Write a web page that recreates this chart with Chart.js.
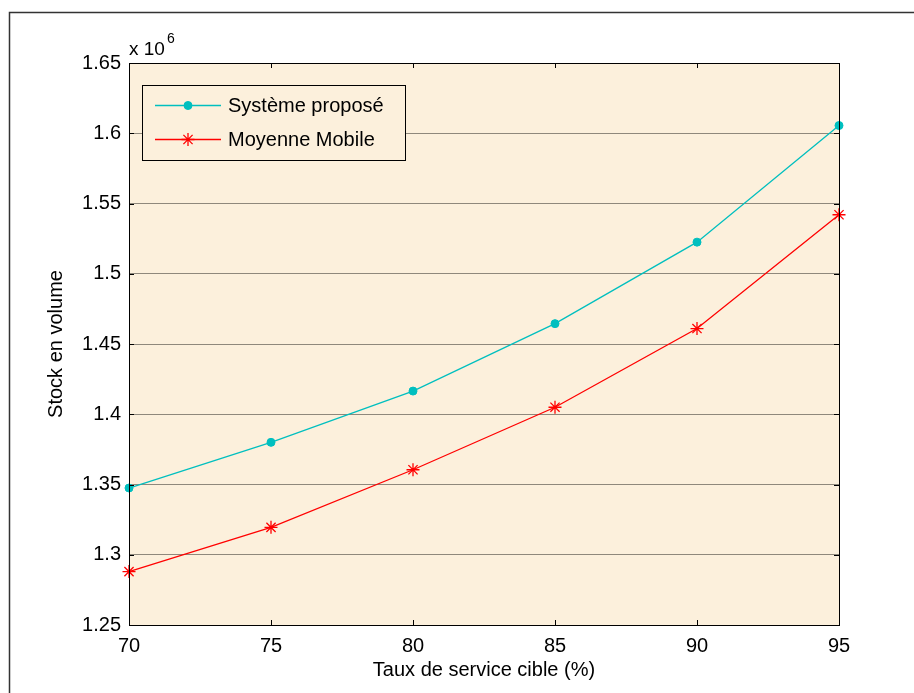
<!DOCTYPE html>
<html>
<head>
<meta charset="utf-8">
<script src="https://cdn.jsdelivr.net/npm/chart.js@4/dist/chart.umd.min.js"></script>
<style>
html,body{margin:0;padding:0;background:#fff;}
#wrap{width:914px;height:693px;}
</style>
</head>
<body>
<div id="wrap"><canvas id="c" width="914" height="693"></canvas></div>
<script>
// ---- data ----
const xValues = [70, 75, 80, 85, 90, 95];
const systemePropose = [1347500, 1380000, 1416500, 1464500, 1522500, 1605500];
const moyenneMobile = [1288000, 1319500, 1360500, 1405000, 1461000, 1542000];
const seriesNames = ['Système proposé', 'Moyenne Mobile'];
const yTickValues = [1250000, 1300000, 1350000, 1400000, 1450000, 1500000, 1550000, 1600000, 1650000];
const xTickValues = [70, 75, 80, 85, 90, 95];
const xTitle = 'Taux de service cible (%)';
const yTitle = 'Stock en volume';

const FONT = '"Liberation Sans", Arial, sans-serif';
const BG = '#FCF0DC';
const CYAN = '#00BFBF';
const RED = '#FF0000';

const toPts = (arr) => arr.map((v, i) => ({x: xValues[i], y: v}));

const deco = {
  id: 'deco',
  beforeDraw(chart) {
    const {ctx, chartArea: a} = chart;
    ctx.save();
    ctx.fillStyle = '#fff';
    ctx.fillRect(0, 0, chart.width, chart.height);
    ctx.strokeStyle = '#333';
    ctx.lineWidth = 1.5;
    ctx.beginPath();
    ctx.moveTo(9.5, chart.height);
    ctx.lineTo(9.5, 12.5);
    ctx.lineTo(chart.width, 12.5);
    ctx.stroke();
    ctx.fillStyle = BG;
    ctx.fillRect(a.left, a.top, a.right - a.left, a.bottom - a.top);
    ctx.restore();
  },
  afterDraw(chart) {
    const {ctx, chartArea: a} = chart;
    const xs = chart.scales.x, ys = chart.scales.y;
    ctx.save();
    // axes box
    ctx.strokeStyle = '#000';
    ctx.lineWidth = 1;
    ctx.strokeRect(Math.round(a.left) + 0.5, Math.round(a.top) + 0.5,
                   Math.round(a.right - a.left), Math.round(a.bottom - a.top));
    // inside ticks
    const tl = 5;
    ctx.beginPath();
    yTickValues.forEach(v => {
      const y = Math.round(ys.getPixelForValue(v)) + 0.5;
      ctx.moveTo(a.left, y); ctx.lineTo(a.left + tl, y);
      ctx.moveTo(a.right, y); ctx.lineTo(a.right - tl, y);
    });
    xTickValues.forEach(v => {
      const x = Math.round(xs.getPixelForValue(v)) + 0.5;
      ctx.moveTo(x, a.bottom); ctx.lineTo(x, a.bottom - tl);
      ctx.moveTo(x, a.top); ctx.lineTo(x, a.top + tl);
    });
    ctx.stroke();
    // exponent label
    ctx.fillStyle = '#000';
    ctx.textBaseline = 'alphabetic';
    ctx.textAlign = 'left';
    ctx.font = '19px ' + FONT;
    ctx.fillText('x 10', a.left, 55);
    const w = ctx.measureText('x 10').width;
    ctx.font = '14px ' + FONT;
    ctx.fillText('6', a.left + w + 2, 43);
    // legend
    const lx = 142.5, ly = 85.5, lw = 263, lh = 75;
    ctx.fillStyle = BG;
    ctx.fillRect(lx, ly, lw, lh);
    ctx.strokeStyle = '#000';
    ctx.lineWidth = 1;
    ctx.strokeRect(lx, ly, lw, lh);
    const rows = [105, 139];
    chart.data.datasets.forEach((ds, i) => {
      const y = rows[i] + 0.5;
      ctx.strokeStyle = ds.borderColor;
      ctx.lineWidth = 1.3;
      ctx.beginPath();
      ctx.moveTo(155, y); ctx.lineTo(221, y);
      ctx.stroke();
      ctx.fillStyle = ds.pointBackgroundColor;
      ctx.strokeStyle = ds.pointBorderColor;
      ctx.lineWidth = ds.pointBorderWidth;
      Chart.helpers.drawPoint(ctx, {pointStyle: ds.pointStyle, radius: ds.pointRadius, borderWidth: ds.pointBorderWidth, rotation: 0}, 188, y);
      ctx.fillStyle = '#000';
      ctx.font = '20px ' + FONT;
      ctx.textBaseline = 'middle';
      ctx.textAlign = 'left';
      ctx.fillText(ds.label, 228, rows[i] + 1);
    });
    ctx.restore();
  }
};

new Chart(document.getElementById('c'), {
  type: 'line',
  data: {
    datasets: [
      {
        label: seriesNames[0],
        data: toPts(systemePropose),
        borderColor: CYAN,
        backgroundColor: CYAN,
        pointBackgroundColor: CYAN,
        pointBorderColor: CYAN,
        pointBorderWidth: 1,
        pointStyle: 'circle',
        pointRadius: 4,
        borderWidth: 1.3,
        tension: 0,
        clip: false
      },
      {
        label: seriesNames[1],
        data: toPts(moyenneMobile),
        borderColor: RED,
        backgroundColor: RED,
        pointBackgroundColor: RED,
        pointBorderColor: RED,
        pointBorderWidth: 1.3,
        pointStyle: 'star',
        pointRadius: 6.5,
        borderWidth: 1.3,
        tension: 0,
        clip: false
      }
    ]
  },
  options: {
    responsive: false,
    animation: false,
    events: [],
    layout: {padding: {left: 0, top: 63, right: 75, bottom: 0}},
    plugins: {legend: {display: false}, tooltip: {enabled: false}},
    scales: {
      x: {
        type: 'linear',
        min: 70, max: 95,
        afterBuildTicks: (s) => { s.ticks = xTickValues.map(v => ({value: v})); },
        afterFit: (s) => { s.height = 68; },
        ticks: {color: '#000', font: {family: FONT, size: 20}, padding: 9, maxRotation: 0},
        grid: {display: false, drawTicks: false},
        border: {display: false},
        title: {display: true, text: xTitle, color: '#000', font: {family: FONT, size: 20}, padding: {top: 0, bottom: 11}}
      },
      y: {
        type: 'linear',
        min: 1250000, max: 1650000,
        afterBuildTicks: (s) => { s.ticks = yTickValues.map(v => ({value: v})); },
        afterFit: (s) => { s.width = 129; },
        ticks: {
          color: '#000', font: {family: FONT, size: 20}, padding: 8,
          callback: (v) => String(Math.round(v / 1e4) / 100)
        },
        grid: {display: true, drawTicks: false, color: '#8f887c', lineWidth: 1},
        border: {display: false},
        title: {display: true, text: yTitle, color: '#000', font: {family: FONT, size: 20}, padding: {top: 44, bottom: 0}}
      }
    }
  },
  plugins: [deco]
});
</script>
</body>
</html>
